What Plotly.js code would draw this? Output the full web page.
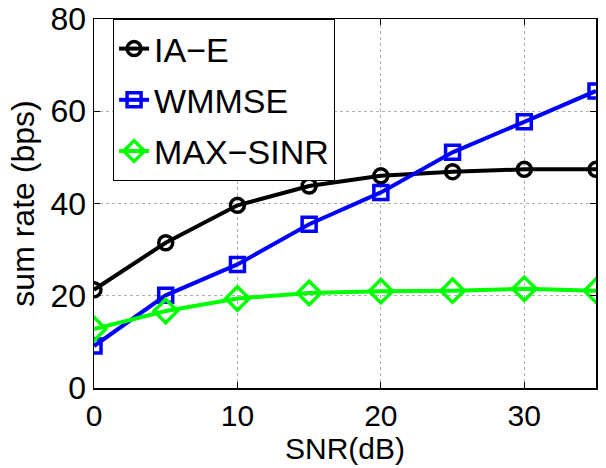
<!DOCTYPE html>
<html><head><meta charset="utf-8">
<script src="https://cdn.plot.ly/plotly-3.0.1.min.js"></script>
<style>html,body{margin:0;padding:0;background:#fff}#c{width:606px;height:468px}</style>
</head><body><div id="c"></div>
<script>
const snr = [0, 5, 10, 15, 20, 25, 30, 35];
const iaE = [21.3, 31.5, 39.6, 43.8, 46.0, 46.9, 47.4, 47.4];
const wmmse = [9.1, 20.1, 26.8, 35.5, 42.4, 51.1, 57.7, 64.4];
const maxSinr = [12.8, 16.7, 19.4, 20.6, 21.0, 21.1, 21.5, 21.1];
const names = ["IA\u2212E", "WMMSE", "MAX\u2212SINR"];
const xTicks = [0, 10, 20, 30];
const yTicks = [0, 20, 40, 60, 80];

const font = "Liberation Sans, Arial, sans-serif";
function tr(y, name, color, symbol, grp) {
  return {x: snr, y: y, name: name, type: "scatter", mode: "lines+markers",
    legendgroup: grp,
    line: {color: color, width: 4},
    marker: {symbol: symbol, size: symbol === "diamond-open" ? 18 : 14, color: color, line: {color: color, width: 3.5}}};
}
const data = [
  tr(iaE, names[0], "#000000", "circle-open", "a"),
  tr(wmmse, names[1], "#0000ff", "square-open", "b"),
  tr(maxSinr, names[2], "#00ff00", "diamond-open", "c")
];
const axBase = {showline: true, linecolor: "#000", linewidth: 1.5, mirror: "ticks", ticks: "inside",
  ticklen: 6, tickcolor: "#000", showgrid: true, gridcolor: "#b0b0b0", griddash: "dot", gridwidth: 1,
  zeroline: false, ticklabeloverflow: "allow", tickfont: {family: font, size: 32, color: "#000"}};
const layout = {
  width: 606, height: 468, paper_bgcolor: "#fff", plot_bgcolor: "#fff",
  margin: {l: 94, r: 10, t: 19, b: 80},
  showlegend: true,
  legend: {x: 0.038, y: 1, xanchor: "left", yanchor: "top", bgcolor: "#fff", bordercolor: "#000", borderwidth: 1,
    font: {family: font, size: 34, color: "#000"}, traceorder: "grouped", tracegroupgap: 4},
  xaxis: Object.assign({}, axBase, {range: [0, 35], tickvals: xTicks, ticktext: xTicks.map(String),
    tickfont: {family: font, size: 30, color: "#000"},
    title: {text: "SNR(dB)", font: {family: font, size: 30, color: "#000"}, standoff: 4}}),
  yaxis: Object.assign({}, axBase, {range: [0, 80], tickvals: yTicks, ticktext: yTicks.map(String),
    title: {text: "sum rate (bps)", font: {family: font, size: 32, color: "#000"}, standoff: 6}})
};
Plotly.newPlot("c", data, layout, {displayModeBar: false, staticPlot: true});
</script></body></html>
